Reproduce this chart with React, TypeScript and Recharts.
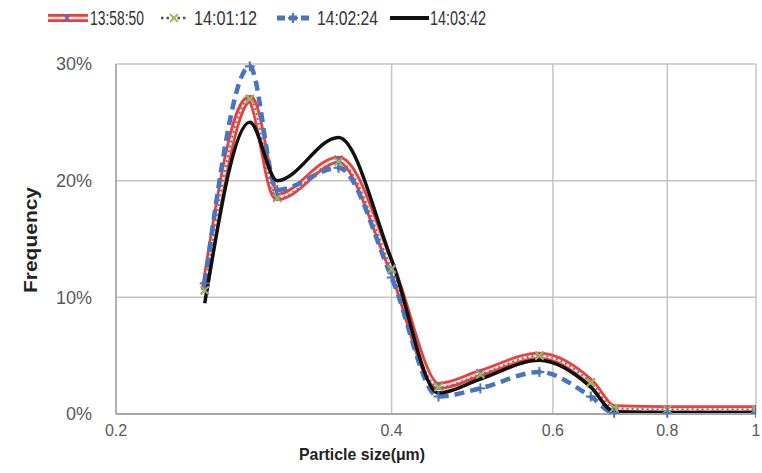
import React from 'react';
import { LineChart, Line, XAxis, YAxis, CartesianGrid, Label } from 'recharts';

// particle sizes (µm) and frequency (%) per measurement time
const sizes = [0.25, 0.28, 0.3, 0.35, 0.4, 0.45, 0.5, 0.58, 0.66, 0.7, 0.8, 1.0];
const t135850 = [10.6, 27.0, 18.6, 21.8, 12.5, 2.4, 3.5, 5.0, 2.7, 0.5, 0.4, 0.4];
const t140112 = [10.6, 27.0, 18.5, 21.6, 12.4, 2.3, 3.4, 5.0, 2.7, 0.5, 0.4, 0.4];
const t140224 = [11.2, 29.8, 19.2, 21.1, 11.7, 1.5, 2.2, 3.6, 1.5, 0.1, 0.1, 0.1];
const t140342 = [9.5, 25.0, 20.0, 23.7, 13.2, 1.8, 3.0, 4.6, 2.3, 0.2, 0.1, 0.1];
const xTicks = [0.2, 0.4, 0.6, 0.8, 1];
const yTicks = [0, 10, 20, 30];

const data = sizes.map((s, i) => ({
  size: s,
  a: t135850[i],
  b: t140112[i],
  c: t140224[i],
  d: t140342[i],
}));

const FONT = '"Liberation Sans", Arial, sans-serif';
const RED = '#e8403c';
const PURPLE = '#7a62a8';
const GREEN = '#9bbb59';
const BLUE = '#4a74be';

const crossDot = (color: string, r = 4) => (props: any) => {
  const { cx, cy, index } = props;
  if (cx == null || cy == null) return <g key={index} />;
  return (
    <g key={index}>
      <line x1={cx - r} y1={cy - r} x2={cx + r} y2={cy + r} stroke={color} strokeWidth={1.8} />
      <line x1={cx - r} y1={cy + r} x2={cx + r} y2={cy - r} stroke={color} strokeWidth={1.8} />
    </g>
  );
};

const plusDot = (props: any) => {
  const { cx, cy, index } = props;
  if (cx == null || cy == null) return <g key={index} />;
  return (
    <g key={index}>
      <line x1={cx - 5} y1={cy} x2={cx + 5} y2={cy} stroke={BLUE} strokeWidth={2} />
      <line x1={cx} y1={cy - 5} x2={cx} y2={cy + 5} stroke={BLUE} strokeWidth={2} />
    </g>
  );
};

const LegendBar = () => (
  <svg width={762} height={40} style={{ position: 'absolute', left: 0, top: 0 }}>
    <g fontFamily={FONT} fontSize={20} fill="#333">
      <line x1={48} y1={18} x2={88} y2={18} stroke={RED} strokeWidth={8} />
      <line x1={48} y1={18} x2={88} y2={18} stroke="#fbe3e3" strokeWidth={2.5} />
      {crossDot(PURPLE)({ cx: 67, cy: 18, index: 0 })}
      <text x={90} y={25} textLength={54} lengthAdjust="spacingAndGlyphs">13:58:50</text>

      <line x1={161} y1={18} x2={187} y2={18} stroke="#555" strokeWidth={2.5} strokeDasharray="2.5 3" />
      {crossDot(GREEN)({ cx: 174, cy: 18, index: 1 })}
      <text x={194} y={25} textLength={63} lengthAdjust="spacingAndGlyphs">14:01:12</text>

      <line x1={277} y1={18} x2={309} y2={18} stroke={BLUE} strokeWidth={5} strokeDasharray="8 4" />
      {plusDot({ cx: 293, cy: 18, index: 2 })}
      <text x={317} y={25} textLength={61} lengthAdjust="spacingAndGlyphs">14:02:24</text>

      <line x1={390} y1={18} x2={429} y2={18} stroke="#111" strokeWidth={4} />
      <text x={430} y={25} textLength={56} lengthAdjust="spacingAndGlyphs">14:03:42</text>
    </g>
  </svg>
);

export default function App() {
  return (
    <div style={{ position: 'absolute', left: 0, top: 0, width: 762, height: 473, background: '#fff' }}>
      <LineChart
        width={762}
        height={473}
        data={data}
        margin={{ top: 64, right: 6, bottom: 19, left: 16 }}
      >
        <CartesianGrid stroke="#c4c4c4" strokeWidth={1.5} />
        <XAxis
          dataKey="size"
          type="number"
          scale="log"
          domain={[0.2, 1]}
          ticks={xTicks}
          allowDataOverflow
          height={40}
          tickLine={false}
          tickMargin={5}
          tickFormatter={(v) => String(v)}
          tick={{ fontSize: 16, fill: '#595959', fontFamily: FONT }}
          axisLine={{ stroke: '#a6a6a6', strokeWidth: 2 }}
        >
          <Label
            content={() => (
              <text
                x={362}
                y={460}
                textAnchor="middle"
                fontFamily={FONT}
                fontWeight="bold"
                fontSize={17}
                fill="#222"
                textLength={126}
                lengthAdjust="spacingAndGlyphs"
              >
                Particle size(μm)
              </text>
            )}
          />
        </XAxis>
        <YAxis
          type="number"
          domain={[0, 30]}
          ticks={yTicks}
          width={100}
          tickLine={false}
          tickMargin={18}
          tickFormatter={(v) => `${v}%`}
          tick={{ fontSize: 18, fill: '#595959', fontFamily: FONT }}
          axisLine={{ stroke: '#a6a6a6', strokeWidth: 1.5 }}
        >
          <Label
            content={() => (
              <text
                x={37}
                y={240}
                transform="rotate(-90 37 240)"
                textAnchor="middle"
                fontFamily={FONT}
                fontWeight="bold"
                fontSize={18}
                fill="#222"
                textLength={106}
                lengthAdjust="spacingAndGlyphs"
              >
                Frequency
              </text>
            )}
          />
        </YAxis>
        <Line dataKey="a" type="monotone" stroke={RED} strokeWidth={8} dot={crossDot(PURPLE)} isAnimationActive={false} />
        <Line dataKey="a" type="monotone" stroke="#fbe3e3" strokeWidth={2.5} dot={false} isAnimationActive={false} />
        <Line dataKey="b" type="monotone" stroke="#777" strokeWidth={2} strokeDasharray="2 3" dot={crossDot(GREEN)} isAnimationActive={false} />
        <Line dataKey="c" type="monotone" stroke={BLUE} strokeWidth={4.5} strokeDasharray="10 6" dot={plusDot} isAnimationActive={false} />
        <Line dataKey="d" type="monotone" stroke="#111" strokeWidth={3.5} dot={false} isAnimationActive={false} />
      </LineChart>
      <LegendBar />
    </div>
  );
}
